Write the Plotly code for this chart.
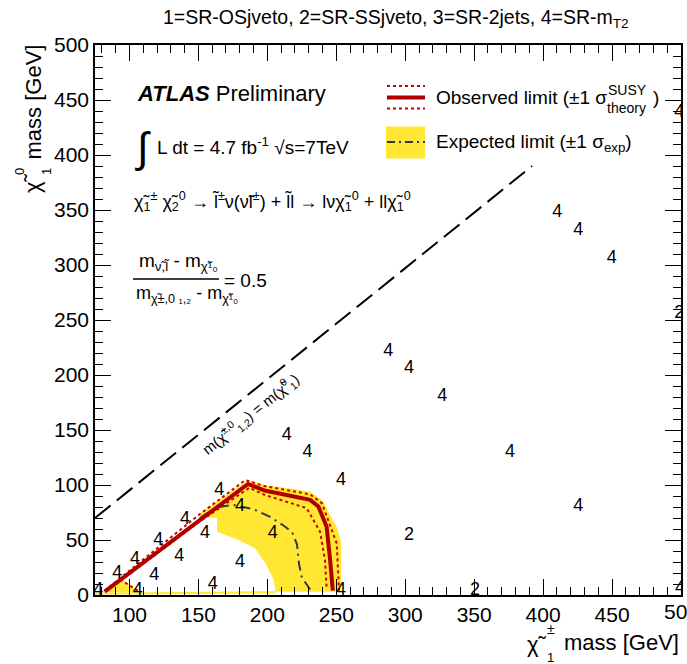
import plotly.graph_objects as go

# ---------------- data ----------------
obs_x = [82, 186, 198, 231, 237, 243, 245.5, 247.5]
obs_y = [3, 101, 95, 86.5, 80.5, 62, 32, 4]

obs_up_x = [82, 150, 184, 198, 231, 239.5, 245, 250.3, 252]
obs_up_y = [4, 72.5, 104.5, 99, 91.5, 83.5, 65, 47, 4]

obs_dn_x = [106, 94, 150, 187, 198, 228.5, 238.2, 241.8, 243]
obs_dn_y = [4, 13.5, 66, 97.5, 91, 79, 57.6, 32, 6]

exp_x = [151, 157, 165, 175, 190, 202, 212, 218, 221.5, 223, 225, 231]
exp_y = [70, 75, 80, 82, 78, 71, 63, 57, 46, 28, 16, 5]

band_x = [150, 186, 198, 231, 240, 251, 253.4, 253.4, 206, 204.5, 198.5, 191, 179, 163.5, 163.5, 153, None,
          82, 93, 106, 106, 82, None,
          75, 206, 206, 75]
band_y = [73.5, 104.5, 100, 94, 86, 60, 48, 3, 3, 14, 29, 42.4, 50, 57.6, 69.7, 71.5, None,
          3, 15, 4, 2.5, 2.5, None,
          0.3, 1.5, 3.5, 2]

diag_x = [75, 392]
diag_y = [70, 390]

label_x = [77.4, 91.2, 106, 104, 118, 120.9, 136.1, 140.3, 154.8, 160.4, 165.1, 180.1, 180.1,
           203.9, 253.4, 253.4, 214, 229.2, 410.2, 425.5, 449.7, 498.7, 287.7, 302.7, 326.9,
           375.9, 425.5, 302.7, 350.6, 499.2, 498.7]
label_y = [4.5, 19.7, 4.5, 32.7, 18, 50, 34.8, 68.8, 55.5, 10, 94.8, 80.3, 30,
           55.5, 104.5, 4.5, 144.8, 129.4, 348, 331, 305.5, 256, 221, 205.5, 180.3,
           129.7, 80.3, 54.5, 4.5, 6, 439]
label_text = ["4", "4", "4", "4", "4", "4", "4", "4", "4", "4", "4", "4", "4",
              "4", "4", "4", "4", "4", "4", "4", "4", "2", "4", "4", "4",
              "4", "4", "2", "2", "4", "4"]

x_range = [75, 500]
y_range = [0, 500]
x_last_tick = "500"

# ---------------- style ----------------
FONT = "Liberation Sans, Arial, sans-serif"
RED = "#b00000"
RED_DOT = "#d00000"
YELLOW = "#ffe733"
EXPC = "#2e3a48"

fig = go.Figure()

fig.add_trace(go.Scatter(x=band_x, y=band_y, mode="lines", fill="toself",
                         fillcolor=YELLOW, line=dict(width=0, color=YELLOW),
                         hoverinfo="skip", showlegend=False))
fig.add_trace(go.Scatter(x=obs_up_x, y=obs_up_y, mode="lines",
                         line=dict(color=RED_DOT, width=2, dash="dot"), showlegend=False))
fig.add_trace(go.Scatter(x=obs_dn_x, y=obs_dn_y, mode="lines",
                         line=dict(color=RED_DOT, width=2, dash="dot"), showlegend=False))
fig.add_trace(go.Scatter(x=exp_x, y=exp_y, mode="lines",
                         line=dict(color=EXPC, width=2, dash="10px,5px,2px,5px"), showlegend=False))
fig.add_trace(go.Scatter(x=obs_x, y=obs_y, mode="lines",
                         line=dict(color=RED, width=4), showlegend=False))
fig.add_trace(go.Scatter(x=diag_x, y=diag_y, mode="lines",
                         line=dict(color="black", width=2, dash="20px,8px"), showlegend=False))
fig.add_trace(go.Scatter(x=label_x, y=label_y, mode="text", text=label_text,
                         textposition="middle center", cliponaxis=True,
                         textfont=dict(family=FONT, size=18, color="black"), showlegend=False))
# dummy trace so that the mirrored (top/right) tick axes are drawn
fig.add_trace(go.Scatter(x=[None], y=[None], xaxis="x2", yaxis="y2", mode="lines",
                         showlegend=False, hoverinfo="skip"))

tick_common = dict(
    ticks="inside", ticklen=16, tickwidth=1, tickcolor="black",
    showgrid=False, zeroline=False, dtick=50, tick0=0,
    tickfont=dict(family=FONT, size=21, color="black"),
    minor=dict(ticks="inside", ticklen=8, dtick=10, tick0=0, tickcolor="black", showgrid=False),
)
fig.update_layout(
    xaxis=dict(range=x_range, showline=True, linecolor="black", linewidth=1.5, mirror=True,
               automargin=False, **tick_common),
    yaxis=dict(range=y_range, showline=True, linecolor="black", linewidth=1.5, mirror=True,
               automargin=False, **tick_common),
    xaxis2=dict(range=x_range, overlaying="x", side="top", showticklabels=False,
                showline=False, anchor="y", automargin=False, **tick_common),
    yaxis2=dict(range=y_range, overlaying="y", side="right", showticklabels=False,
                showline=False, anchor="x", automargin=False, **tick_common),
)

def px_x(px):
    return (px - 95) / 586.0

def px_y(py):
    return (595 - py) / 550.0

ann = []
def text(px, py, s, size, xanchor="left", yanchor="middle", angle=0):
    ann.append(dict(x=px_x(px), y=px_y(py), xref="paper", yref="paper", text=s, showarrow=False,
                    xanchor=xanchor, yanchor=yanchor, textangle=angle,
                    font=dict(family=FONT, size=size, color="black")))

# last x tick label, cut by the page edge as in the reference
ann.append(dict(x=x_range[1], y=px_y(611), xref="x", yref="paper", text=x_last_tick,
                showarrow=False, xanchor="center", yanchor="middle",
                font=dict(family=FONT, size=21, color="black")))

text(396, 18, "1=SR-OSjveto, 2=SR-SSjveto, 3=SR-2jets, 4=SR-m<sub>T2</sub>", 19.5, xanchor="center")
text(135, 93, "<b><i>ATLAS</i></b> Preliminary", 22)
text(143, 147, "∫", 42, xanchor="center")
text(155, 146, "L dt = 4.7 fb<sup>-1</sup> √s=7TeV", 19)
text(132, 201, "χ̃<sub>1</sub><sup>±</sup> χ̃<sub>2</sub><sup>0</sup> → l̃<sup>±</sup>ν(ν̃l<sup>±</sup>) + l̃l → lνχ̃<sub>1</sub><sup>0</sup> + llχ̃<sub>1</sub><sup>0</sup>", 18)
text(137, 262, "m<sub>ν̃,l̃</sub> - m<sub>χ̃¹₀</sub>", 19)
text(134, 294, "m<sub>χ̃±,0 ₁,₂</sub> - m<sub>χ̃¹₀</sub>", 18)
text(222, 280, "= 0.5", 19)

# legend texts (stacked super/subscript as in the reference)
text(434, 98, "Observed limit (±1 σ", 19)
text(606, 90, "SUSY", 14)
text(605, 108, "theory", 14)
text(651, 98, ")", 19)
text(434, 143, "Expected limit (±1 σ<sub>exp</sub>)", 19)

# x axis title
text(681, 642, "mass [GeV]", 22, xanchor="right")
text(537, 644, "χ̃", 22, xanchor="center")
text(551, 629, "±", 14, xanchor="center")
text(550, 657, "1", 13, xanchor="center")

# y axis title (rotated)
text(33, 43, "mass [GeV]", 22, xanchor="center", yanchor="top", angle=-90)
text(33, 183, "χ̃", 22, xanchor="center", angle=-90)
text(19, 172, "0", 13, xanchor="center", angle=-90)
text(46, 172, "1", 13, xanchor="center", angle=-90)

# diagonal label (placed in data coordinates along the kinematic boundary)
ann.append(dict(x=188, y=165, xref="x", yref="y", showarrow=False, textangle=-38.8,
                text="m(χ̃<sup>±,0</sup><sub>1,2</sub>) = m(χ̃<sup>0</sup><sub>1</sub>)",
                font=dict(family=FONT, size=15, color="black")))

shapes = []
# fraction bar
shapes.append(dict(type="line", xref="paper", yref="paper", x0=px_x(133), x1=px_x(219),
                   y0=px_y(279), y1=px_y(279), line=dict(color="black", width=1.3)))
# legend: observed
shapes.append(dict(type="line", xref="paper", yref="paper", x0=px_x(387), x1=px_x(425),
                   y0=px_y(86), y1=px_y(86), line=dict(color=RED_DOT, width=2, dash="dot")))
shapes.append(dict(type="line", xref="paper", yref="paper", x0=px_x(387), x1=px_x(425),
                   y0=px_y(108.5), y1=px_y(108.5), line=dict(color=RED_DOT, width=2, dash="dot")))
shapes.append(dict(type="line", xref="paper", yref="paper", x0=px_x(387), x1=px_x(425),
                   y0=px_y(97.5), y1=px_y(97.5), line=dict(color=RED, width=4)))
# legend: expected
shapes.append(dict(type="rect", xref="paper", yref="paper", x0=px_x(386), x1=px_x(425),
                   y0=px_y(158.5), y1=px_y(126.5), fillcolor=YELLOW, line=dict(width=0)))
shapes.append(dict(type="line", xref="paper", yref="paper", x0=px_x(387), x1=px_x(425),
                   y0=px_y(142), y1=px_y(142), line=dict(color=EXPC, width=2, dash="8px,4px,2px,4px")))

fig.update_layout(
    width=687, height=664, autosize=False,
    margin=dict(l=95, r=6, t=45, b=69, autoexpand=False),
    paper_bgcolor="white", plot_bgcolor="white",
    annotations=ann, shapes=shapes, showlegend=False,
    font=dict(family=FONT, color="black"),
)

fig.write_html("out.html")
